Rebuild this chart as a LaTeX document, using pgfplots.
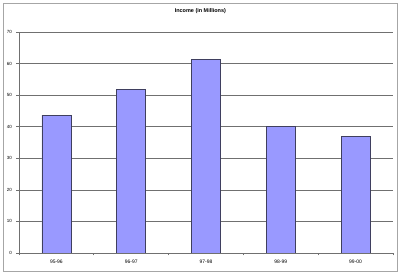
\documentclass[border=0pt]{standalone}
\usepackage{pgfplots}
\pgfplotsset{compat=1.18}
\usepackage{fontspec}
\setmainfont{Liberation Sans}
\definecolor{barfill}{HTML}{9999FF}
\definecolor{baredge}{HTML}{3F3F5F}
\definecolor{gridc}{HTML}{707070}
\begin{document}
\begin{tikzpicture}[x=1bp,y=1bp]
\path[use as bounding box] (0,0) rectangle (400,273);
\draw[gray!70, line width=0.8bp] (3,1.5) rectangle (397,270);
\begin{axis}[
  at={(19bp,20bp)}, anchor=south west,
  scale only axis, width=374bp, height=221bp,
  xmin=-0.5, xmax=4.5, ymin=0, ymax=70,
  axis x line*=bottom, axis y line*=left,
  axis line style={gridc, line width=0.6bp, -},
  ytick={0,10,...,70},
  xtick={0,1,2,3,4},
  xticklabels={95-96,96-97,97-98,98-99,99-00},
  minor xtick={-0.5,0.5,1.5,2.5,3.5,4.5},
  major x tick style={draw=none},
  minor x tick style={gridc, line width=0.6bp},
  y tick style={gridc, line width=0.6bp},
  tick align=outside,
  major tick length=2.5bp, minor tick length=2.5bp,
  ymajorgrids, grid style={gridc, line width=0.6bp},
  yticklabel style={font=\fontsize{4.5}{5}\selectfont, xshift=-1bp},
  xticklabel style={font=\fontsize{5}{6}\selectfont, yshift=-1bp},
  /pgf/number format/assume math mode=true,
  ybar, bar width=29bp,
  title={\bfseries Income (in Millions)},
  title style={font=\fontsize{5.5}{6}\selectfont, at={(0.485,1)}, yshift=9bp, anchor=south},
]
\addplot[fill=barfill, draw=baredge, line width=0.6bp] coordinates {(0,43.7) (1,51.8) (2,61.3) (3,40.1) (4,37.0)};
\end{axis}
\end{tikzpicture}
\end{document}
